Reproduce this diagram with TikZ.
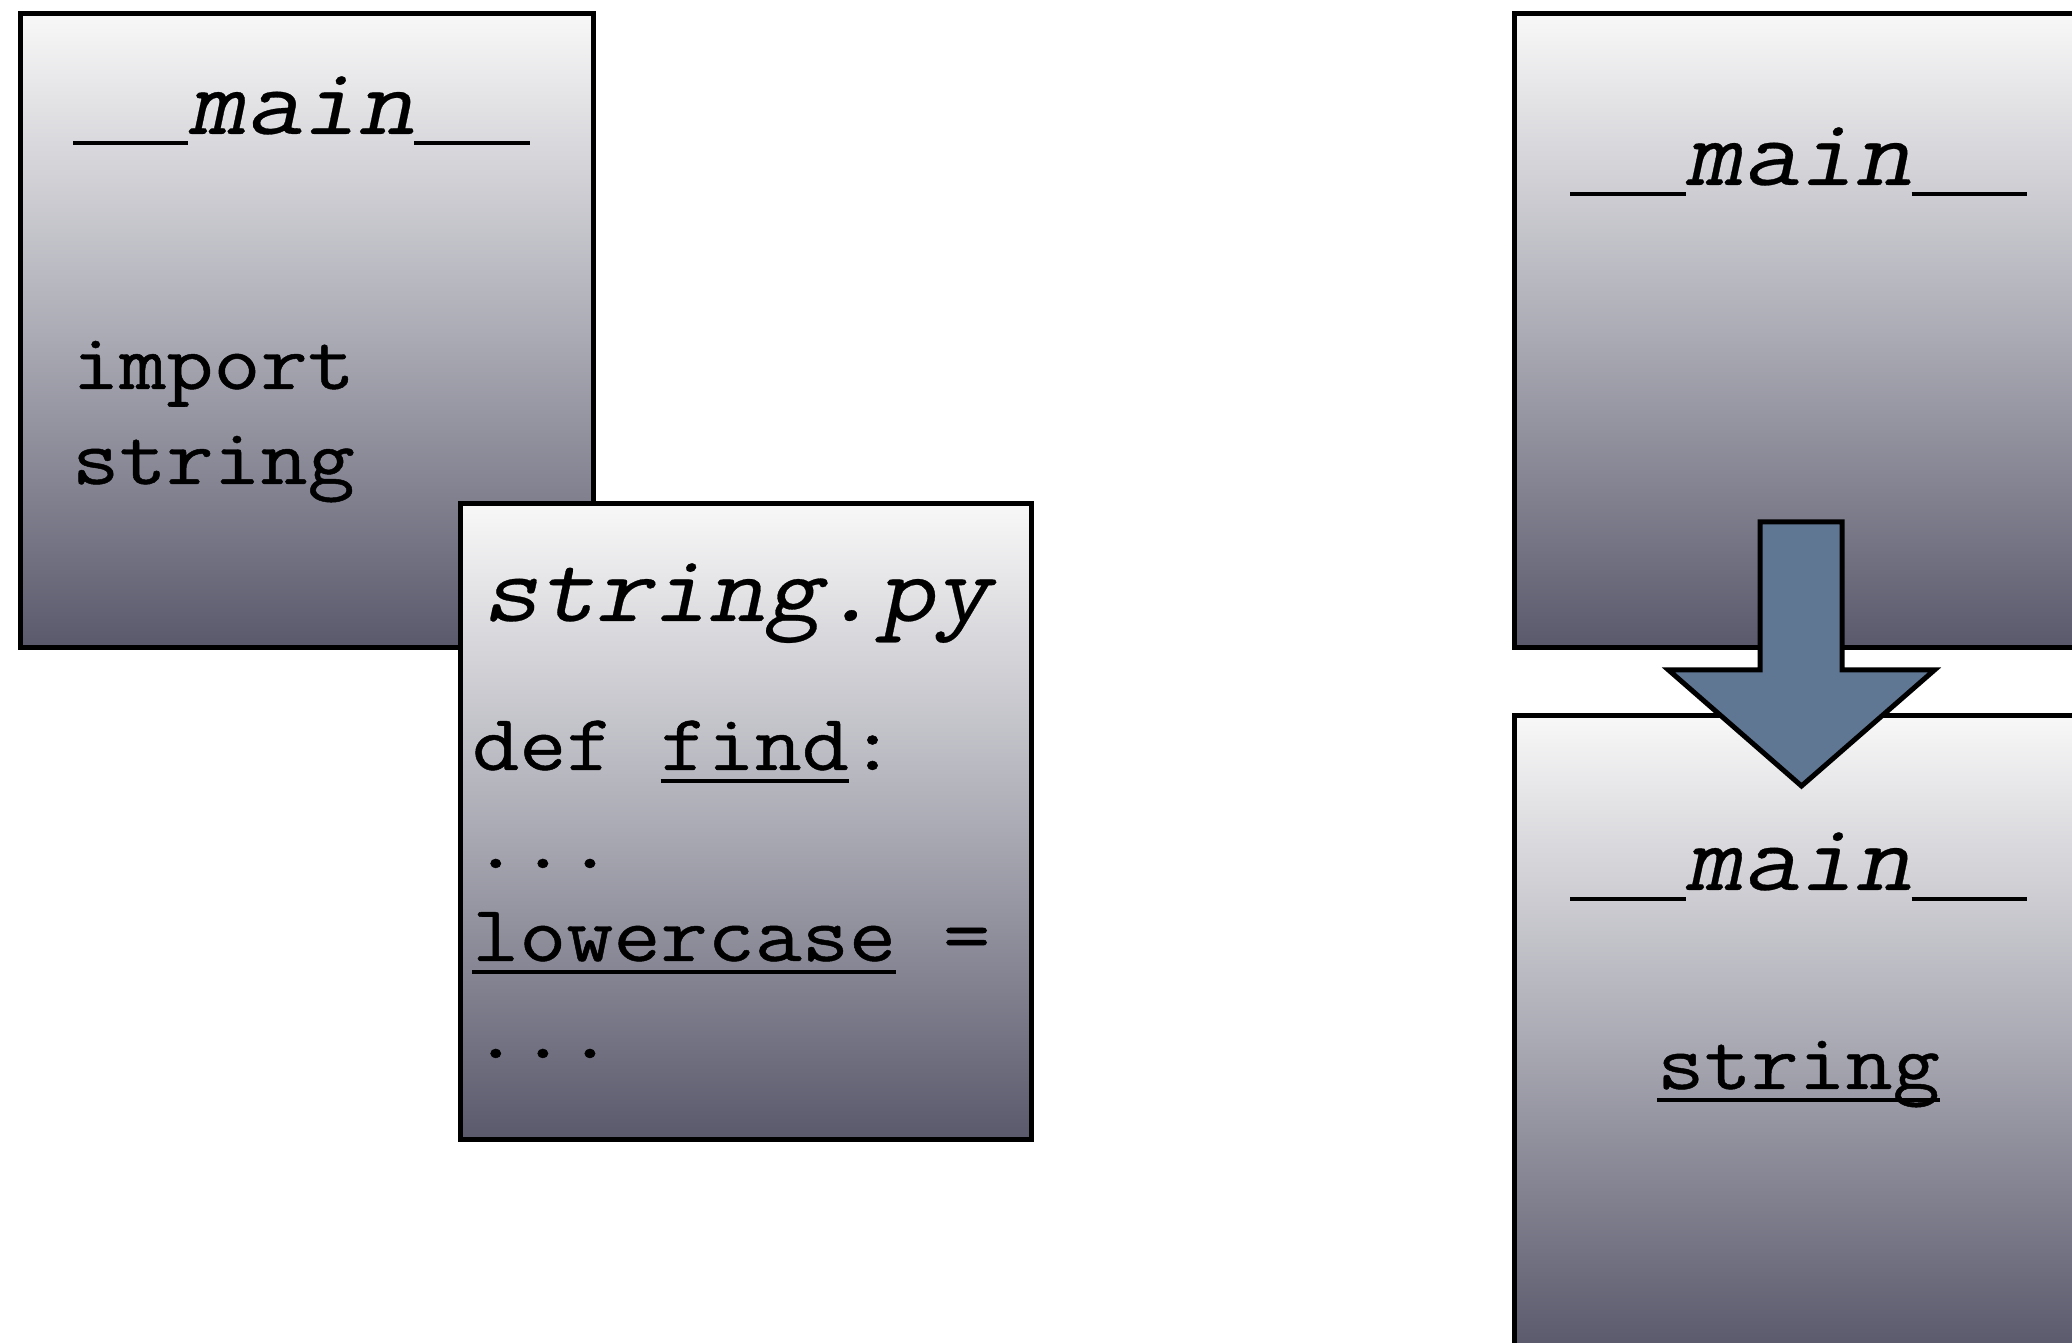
\documentclass[tikz,border=0pt]{standalone}
\usepackage{fontspec}
% typewriter face widened to the 0.6em pitch of the code listings
\setmonofont[FakeStretch=1.143, FakeBold=0.6]{Latin Modern Mono}
\newfontfamily\obliquett[FakeStretch=1.143, FakeSlant=0.21, FakeBold=0.3]{Latin Modern Mono}
\definecolor{boxtop}{RGB}{248,248,248}
\definecolor{boxmid}{RGB}{172,172,182}
\definecolor{boxbottom}{RGB}{90,89,108}
\definecolor{arrowblue}{RGB}{96,119,148}
% underline drawn as a rule under the code word
\newsavebox\ulbox
\newcommand\codeul[1]{\sbox\ulbox{#1}\rlap{\rule[-0.16em]{\wd\ulbox}{0.05em}}\usebox\ulbox}
% full-cell underscore for the dunder names
\newcommand\usc{\rule[-0.115em]{0.6em}{0.04em}}
\tikzset{
  modbox/.style={draw=black, line width=5pt, inner sep=0pt, anchor=north west,
    minimum width=573pt, minimum height=634pt,
    shading=axis, top color=boxtop, bottom color=boxbottom, middle color=boxmid},
  title/.style={font=\obliquett\fontsize{96}{100}\selectfont, inner sep=0pt},
  code/.style={font=\ttfamily\fontsize{80}{97}\selectfont, inner sep=0pt, anchor=base west},
  bigarrow/.style={draw=black, line width=5pt, fill=arrowblue, line join=miter},
}
\begin{document}
\begin{tikzpicture}[x=1pt,y=1pt]
\useasboundingbox (0,0) rectangle (2072,1343);
\clip (0,0) rectangle (2072,1343);

% left: the importing module and the module file
\node[modbox, minimum width=573pt, minimum height=634pt] (mainL) at (18,1332) {};
\node[title, anchor=base west] (mainLt) at (73,1209) {\usc\usc main\usc\usc};
\node[code] (impA) at (72,954) {import};
\node[code] (impB) at (72,859) {string};

\node[modbox, minimum width=571pt, minimum height=636pt] (strpy) at (458,842) {};
\node[title, anchor=base west] (strpyt) at (482,722) {string.py};
\node[code] (lineA) at (472,573) {def \codeul{find}:};
\node[code] (lineB) at (472,475) {...};
\node[code] (lineC) at (472,382) {\codeul{lowercase} =};
\node[code] (lineD) at (472,285) {...};

% right: namespace before and after the import
\node[modbox] (mainR) at (1512,1332) {};
\node[title, anchor=base] (mainRt) at (1798.5,1158) {\usc\usc main\usc\usc};

\node[modbox] (mainS) at (1512,630) {};
\node[title, anchor=base] (mainSt) at (1798.5,453) {\usc\usc main\usc\usc};
\node[code, anchor=base] (strname) at (1798.5,254) {\codeul{string}};

% block arrow from the first namespace into the second
\draw[bigarrow] ([shift={(-41,128)}]mainR.south) -- ++(82,0) -- ++(0,-148)
  -- ++(92.5,0) -- ++(-133,-116) -- ++(-133,116) -- ++(91.5,0) -- cycle;
\end{tikzpicture}
\end{document}
